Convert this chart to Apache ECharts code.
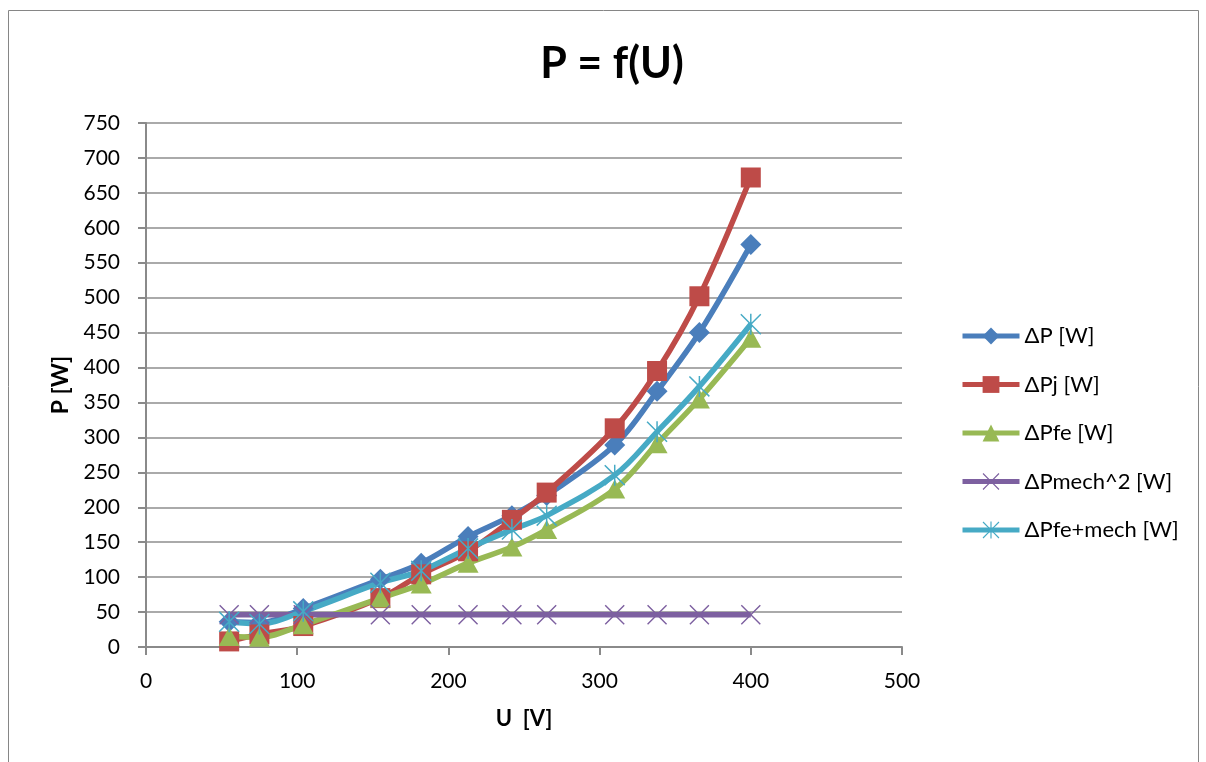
<!DOCTYPE html>
<html>
<head>
<meta charset="utf-8">
<script src="https://cdn.jsdelivr.net/npm/echarts@6/dist/echarts.min.js"></script>
<style>
  html, body { margin: 0; padding: 0; background: #ffffff; }
  #chart { width: 1206px; height: 762px; }
</style>
</head>
<body>
<div id="chart"></div>
<script>
// Supply voltage U [V]
const voltage = [55, 75, 104, 155, 182, 213, 242, 265, 310, 338, 366, 400];

// Losses [W] for each voltage step
const lossTotal   = [36, 35, 55, 97, 120, 158, 188, 217, 289, 366, 450, 576];   // ΔP
const lossCopper  = [8, 18, 30, 70, 104, 137, 182, 221, 313, 395, 502, 672];   // ΔPj
const lossIron    = [15, 14, 32, 70, 90, 120, 143, 168, 226, 291, 355, 442];   // ΔPfe
const lossMech    = [46, 46, 46, 46, 46, 46, 46, 46, 46, 46, 46, 46];          // ΔPmech^2
const lossIronMech = [36, 33, 51, 92, 109, 141, 168, 188, 246, 308, 373, 462]; // ΔPfe+mech

const seriesNames = ['ΔP [W]', 'ΔPj [W]', 'ΔPfe [W]', 'ΔPmech^2 [W]', 'ΔPfe+mech [W]'];
const seriesColors = ['#4A7EBB', '#BE4B48', '#98B954', '#7D60A0', '#46AAC5'];

const FONT = 'Lato, "Open Sans", "DejaVu Sans", sans-serif';

// Thin-armed cross and asterisk marker shapes
const crossPath = 'path://M0,1 L1,0 L10,9 L19,0 L20,1 L11,10 L20,19 L19,20 L10,11 L1,20 L0,19 L9,10 Z';
const starPath = 'path://M0,1 L1,0 L10,9 L19,0 L20,1 L11,10 L20,19 L19,20 L10,11 L1,20 L0,19 L9,10 Z ' +
                 'M9.3,0 L10.7,0 L10.7,20 L9.3,20 Z';

const markers = [
  { symbol: 'diamond', size: [21, 21] },
  { symbol: 'rect', size: 20 },
  { symbol: 'triangle', size: [21, 19] },
  { symbol: crossPath, size: 20 },
  { symbol: starPath, size: 21 }
];

function pairs(ys) {
  return voltage.map((u, i) => [u, ys[i]]);
}

const allValues = [lossTotal, lossCopper, lossIron, lossMech, lossIronMech];

const chart = echarts.init(document.getElementById('chart'), null, { renderer: 'canvas' });

chart.setOption({
  backgroundColor: '#ffffff',
  animation: false,
  title: {
    text: 'P = f(U)',
    left: 607,
    top: 38,
    textAlign: 'center',
    textStyle: { fontFamily: FONT, fontWeight: 'bold', fontSize: 43, color: '#000000' }
  },
  graphic: [{
    type: 'rect',
    shape: { x: 8.5, y: 10.5, width: 1190, height: 800 },
    style: { fill: 'none', stroke: '#868686', lineWidth: 1 },
    silent: true
  }],
  legend: {
    orient: 'vertical',
    left: 955,
    top: 320,
    itemWidth: 57,
    itemHeight: 21,
    itemGap: 26.5,
    data: seriesNames,
    lineStyle: { width: 5 },
    textStyle: { fontFamily: FONT, fontSize: 22, color: '#000000', lineHeight: 22 }
  },
  grid: { left: 146, right: 304, top: 123, bottom: 115, containLabel: false },
  xAxis: {
    type: 'value',
    min: 0, max: 500, interval: 100,
    name: 'U  [V]',
    nameLocation: 'middle',
    nameGap: 61,
    nameTextStyle: { fontFamily: FONT, fontWeight: 'bold', fontSize: 22, color: '#000000' },
    axisLine: { show: true, onZero: false, lineStyle: { color: '#8a8a8a', width: 2 } },
    axisTick: { show: true, inside: false, length: 8, lineStyle: { color: '#8a8a8a', width: 2 } },
    axisLabel: { margin: 24, fontFamily: FONT, fontSize: 21, color: '#000000' },
    splitLine: { show: false }
  },
  yAxis: {
    type: 'value',
    min: 0, max: 750, interval: 50,
    name: 'P [W]',
    nameLocation: 'middle',
    nameGap: 74,
    nameTextStyle: { fontFamily: FONT, fontWeight: 'bold', fontSize: 23, color: '#000000' },
    axisLine: { show: true, onZero: false, lineStyle: { color: '#8a8a8a', width: 2 } },
    axisTick: { show: true, inside: false, length: 8, lineStyle: { color: '#8a8a8a', width: 2 } },
    axisLabel: { margin: 26, fontFamily: FONT, fontSize: 21, color: '#000000' },
    splitLine: { show: true, lineStyle: { color: '#8e8e8e', width: 1.6 } }
  },
  series: seriesNames.map((name, i) => ({
    name: name,
    type: 'line',
    data: pairs(allValues[i]),
    smooth: 0.35,
    showAllSymbol: true,
    symbol: markers[i].symbol,
    symbolSize: markers[i].size,
    color: seriesColors[i],
    lineStyle: { width: 5.5, color: seriesColors[i] },
    itemStyle: { color: seriesColors[i], borderWidth: 0 },
    emphasis: { disabled: true }
  }))
});
</script>
</body>
</html>
